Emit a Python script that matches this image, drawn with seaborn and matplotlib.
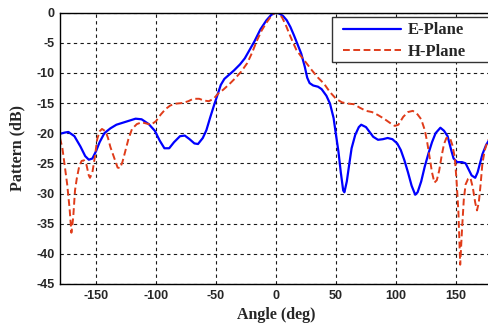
import pandas as pd
import matplotlib
matplotlib.use("Agg")
import matplotlib.pyplot as plt
from matplotlib.patches import Rectangle
import seaborn as sns

# E-plane pattern (angle in deg, level in dB)
e_angle = [-180, -176, -173, -168, -163, -159, -156, -153, -150, -147, -143, -138,
           -133, -125, -117, -112, -106, -101, -97, -93, -89, -85, -80, -76, -72,
           -68, -65, -61, -58, -55, -52, -49, -46, -43, -39, -35, -30, -26, -22,
           -18, -13, -8, -4, 0, 3, 6, 9, 12, 15, 18, 21, 24, 26, 28, 31, 35, 38,
           42, 45, 48, 50, 52, 54, 56, 57, 59, 61, 63, 66, 69, 71, 75, 78, 81, 85,
           89, 93, 97, 101, 104, 107, 110, 113, 116, 118, 121, 124, 127, 130, 133,
           137, 140, 143, 146, 148, 151, 155, 158, 161, 163, 166, 168, 170, 172,
           175, 178]
e_db = [-20.1, -19.9, -19.8, -20.5, -22.2, -23.8, -24.4, -24.2, -23.0, -21.5, -20.0,
        -19.2, -18.6, -18.1, -17.6, -17.7, -18.5, -19.6, -21.2, -22.5, -22.5, -21.5,
        -20.5, -20.4, -21.0, -21.7, -21.8, -20.8, -19.5, -17.5, -15.6, -13.8, -12.0,
        -11.0, -10.3, -9.6, -8.6, -7.6, -6.2, -4.8, -2.8, -1.3, -0.4, 0.0, -0.2,
        -0.6, -1.3, -2.4, -3.8, -5.3, -6.8, -9.0, -10.8, -11.7, -12.1, -12.3, -12.7,
        -13.8, -15.1, -17.5, -20.3, -23.0, -26.5, -29.5, -29.8, -28.0, -25.2, -22.5,
        -20.3, -19.0, -18.6, -19.0, -19.8, -20.6, -21.1, -21.0, -20.8, -21.0, -21.7,
        -22.8, -24.5, -26.5, -28.7, -30.2, -29.8, -28.0, -25.5, -23.4, -21.5, -20.0,
        -19.1, -19.6, -20.5, -22.8, -24.2, -24.8, -24.8, -25.0, -26.2, -27.0, -27.4,
        -26.5, -25.0, -23.5, -22.0, -21.0]

# H-plane pattern
h_angle = [-180, -178, -176, -174, -172, -170.5, -169, -167.5, -166, -164, -162,
           -160, -158, -156, -155, -153, -151, -149, -147, -145, -142, -140, -138,
           -135, -132, -130, -128, -126, -123, -120, -116, -112, -108, -104, -100,
           -96, -92, -88, -83, -78, -73, -69, -64, -60, -56, -52, -48, -44, -39,
           -34, -29, -24, -20, -16, -12, -8, -4, -1, 2, 5, 8, 11, 14, 17, 21, 25,
           30, 35, 40, 45, 50, 55, 60, 65, 70, 75, 80, 85, 90, 95, 99, 102, 106,
           110, 114, 118, 121, 124, 126, 128, 130, 132, 134, 136, 138, 140, 142,
           145, 147, 149, 150.5, 152, 153.5, 155, 156.5, 158, 160, 162, 164, 166,
           167.5, 169, 170.5, 172, 174, 176, 178]
h_db = [-20.8, -22.5, -25.5, -28.5, -32.5, -36.5, -34.0, -29.5, -27.5, -25.5, -24.6,
        -24.5, -25.2, -27.0, -27.4, -26.5, -24.0, -21.0, -19.7, -19.3, -19.7, -20.8,
        -22.3, -24.0, -25.7, -25.8, -24.8, -23.3, -21.0, -19.3, -18.5, -18.2, -18.4,
        -18.6, -18.0, -16.9, -16.0, -15.4, -15.1, -15.0, -14.7, -14.3, -14.3, -14.6,
        -14.7, -14.3, -13.4, -12.8, -11.9, -10.9, -9.8, -8.4, -6.7, -4.7, -3.0, -1.7,
        -0.6, 0.0, -0.1, -0.8, -2.0, -3.5, -4.9, -6.2, -7.3, -8.3, -9.6, -10.8, -11.8,
        -13.2, -14.3, -14.9, -15.1, -15.2, -15.8, -16.3, -16.5, -17.0, -17.6, -18.3,
        -18.8, -18.6, -17.3, -16.5, -16.3, -16.9, -17.7, -19.5, -21.5, -24.0, -26.5,
        -28.2, -27.8, -26.2, -23.8, -21.8, -20.8, -20.8, -22.0, -24.0, -28.0, -33.0,
        -41.8, -36.0, -31.0, -28.5, -27.6, -27.4, -29.0, -31.5, -32.8, -31.5, -28.5,
        -25.0, -22.8, -21.5, -20.8]

x_ticks = [-150, -100, -50, 0, 50, 100, 150]
y_ticks = [0, -5, -10, -15, -20, -25, -30, -35, -40, -45]

sns.set_style("white")
plt.rcParams['font.family'] = ['Liberation Sans', 'DejaVu Sans']
plt.rcParams['axes.unicode_minus'] = False

W, H = 488, 325
fig = plt.figure(figsize=(W / 100, H / 100), dpi=100)
ax = fig.add_axes([60 / W, 41 / H, 432 / W, 271.5 / H])

sns.lineplot(x=e_angle, y=e_db, ax=ax, color='#0000ff', linewidth=1.6,
             label='E-Plane', sort=False, estimator=None)
sns.lineplot(x=h_angle, y=h_db, ax=ax, color='#e03c1a', linewidth=1.4,
             linestyle=(0, (3.5, 1.8)), label='H-Plane', sort=False, estimator=None)

ax.set_xlim(-180, 180)
ax.set_ylim(-45, 0)
ax.set_xticks(x_ticks)
ax.set_yticks(y_ticks)
ax.grid(True, color='#1a1a1a', linestyle=(0, (3, 3)), linewidth=0.8)
for s in ax.spines.values():
    s.set_color('black')
    s.set_linewidth(1.0)
ax.tick_params(direction='in', length=3, labelsize=9, pad=4)
for lab in ax.get_xticklabels() + ax.get_yticklabels():
    lab.set_fontweight('bold')

ax.set_xlabel('Angle (deg)', family='Liberation Serif', fontweight='bold', fontsize=11.5, labelpad=4)
ax.set_ylabel('Pattern (dB)', family='Liberation Serif', fontweight='bold', fontsize=11.5, labelpad=8)

# legend box runs off the right edge in the original, so draw the frame separately
leg = ax.legend(loc='center left', bbox_to_anchor=(343 / W, 1 - 41.3 / H),
                bbox_transform=fig.transFigure, borderaxespad=0, frameon=False,
                prop={'family': 'Liberation Serif', 'weight': 'bold', 'size': 12},
                handlelength=3.5, handletextpad=0.36, borderpad=0.0,
                labelspacing=0.35)
leg.set_zorder(6)
box = Rectangle((332 / W, 1 - 62.3 / H), 170 / W, 45 / H, transform=fig.transFigure,
                facecolor='white', edgecolor='#333333', linewidth=1.0, zorder=5)
box.set_clip_on(False)
ax.add_artist(box)

fig.savefig('out.png', dpi=100)
